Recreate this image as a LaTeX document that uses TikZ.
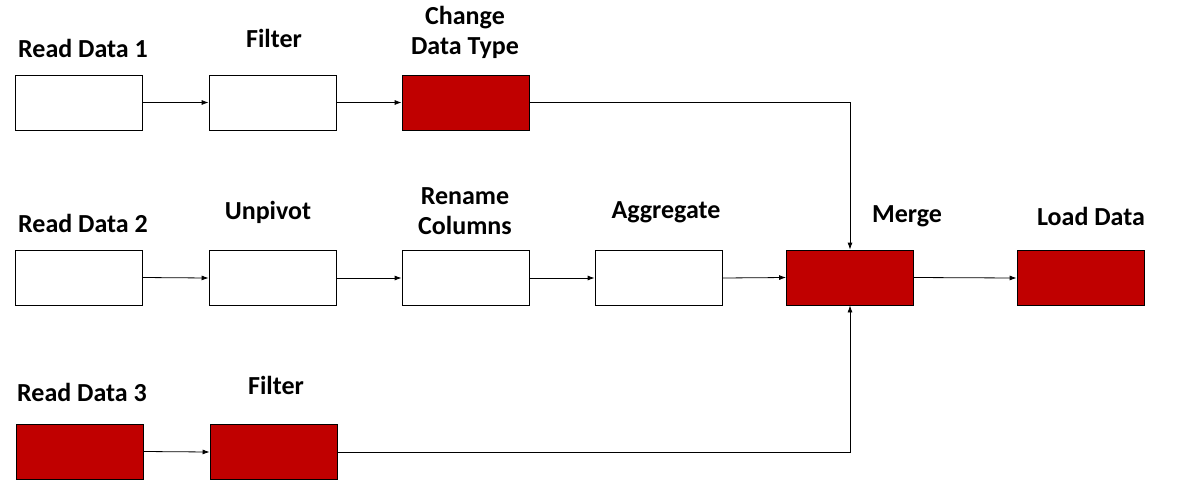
\documentclass[tikz,border=0pt]{standalone}
\usepackage{fontspec}
\setmainfont{Carlito}
\usetikzlibrary{arrows.meta}
\definecolor{StepRed}{HTML}{C00000}

\begin{document}
\begin{tikzpicture}[x=1pt,y=-1pt,
  stepbox/.style={draw=black,line width=0.8pt,minimum width=127pt,minimum height=55pt,inner sep=0pt},
  redbox/.style={stepbox,fill=StepRed},
  steplabel/.style={font=\fontsize{26}{30}\selectfont\bfseries,align=center,inner sep=0pt},
  flow/.style={line width=0.8pt,-{Latex[length=7pt,width=5pt]}}]
\useasboundingbox (0,0) rectangle (1183,488);

\node[stepbox] (RD1) at (78.5,102.5) {};
\node[stepbox] (F1) at (272.5,102.5) {};
\node[redbox] (CDT) at (465.5,102.5) {};

\node[stepbox] (RD2) at (78.5,277.5) {};
\node[stepbox] (UNP) at (272.5,278) {};
\node[stepbox] (REN) at (465.5,278) {};
\node[stepbox] (AGG) at (658.5,278) {};
\node[redbox] (MRG) at (850,277.5) {};
\node[redbox] (LD) at (1080.5,278) {};

\node[redbox] (RD3) at (80,451.5) {};
\node[redbox] (F3) at (273.5,452) {};

\node[steplabel] (tRD1) at (83,48) {Read Data 1};
\node[steplabel] (tF1) at (274,38) {Filter};
\node[steplabel] (tCDT) at (465,32) {Change\\Data Type};
\node[steplabel] (tRD2) at (83,223) {Read Data 2};
\node[steplabel] (tUNP) at (268,212) {Unpivot};
\node[steplabel] (tREN) at (465,211) {Rename\\Columns};
\node[steplabel] (tAGG) at (666,212) {Aggregate};
\node[steplabel] (tMRG) at (907,216) {Merge};
\node[steplabel] (tLD) at (1091,216) {Load Data};
\node[steplabel] (tRD3) at (82,392) {Read Data 3};
\node[steplabel] (tF3) at (276,385) {Filter};

\draw[flow] (RD1.east) -- (F1.west);
\draw[flow] (F1.east) -- (CDT.west);
\draw[flow] (CDT.east) -| (MRG.north);

\draw[flow] (RD2.east) -- (UNP.west);
\draw[flow] (UNP.east) -- (REN.west);
\draw[flow] (REN.east) -- (AGG.west);
\draw[flow] (AGG.east) -- (MRG.west);
\draw[flow] (MRG.east) -- (LD.west);

\draw[flow] (RD3.east) -- (F3.west);
\draw[flow] (F3.east) -| (MRG.south);

\end{tikzpicture}
\end{document}
